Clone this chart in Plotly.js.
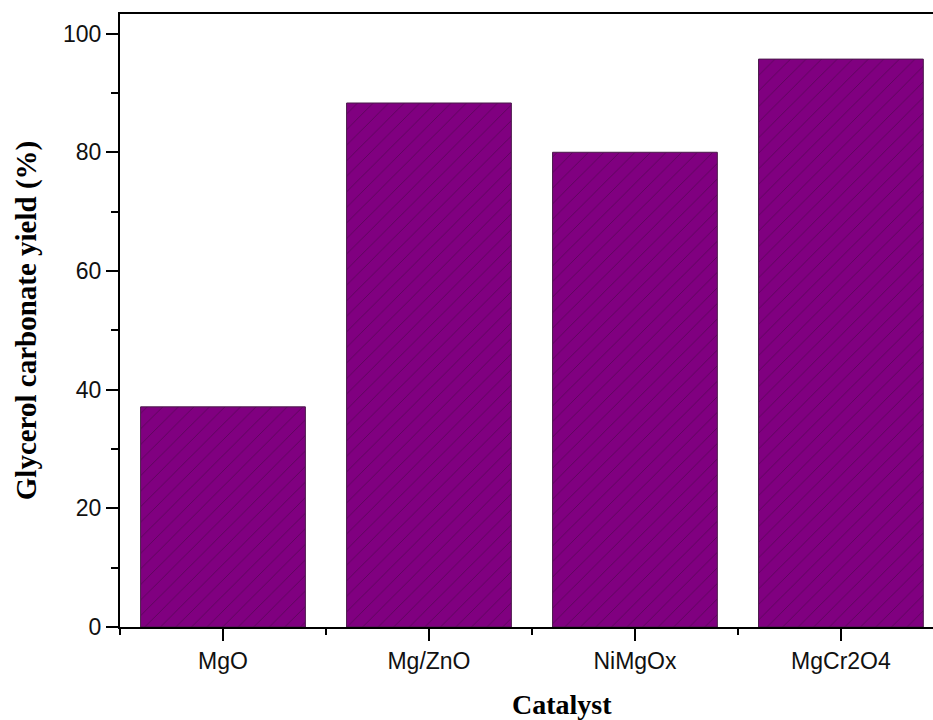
<!DOCTYPE html>
<html>
<head>
<meta charset="utf-8">
<script src="https://cdn.plot.ly/plotly-3.0.1.min.js"></script>
<style>html,body{margin:0;padding:0;background:#fff;}</style>
</head>
<body>
<div id="chart" style="width:933px;height:720px;"></div>
<script>
const categories = ["MgO", "Mg/ZnO", "NiMgOx", "MgCr2O4"];
const yieldValues = [37.1, 88.3, 80.0, 95.7];
const yTickVals = [0, 20, 40, 60, 80, 100];
const yTickText = ["0", "20", "40", "60", "80", "100"];
const xPositions = categories.map((c, i) => i);

const trace = {
  type: "bar",
  x: xPositions,
  y: yieldValues,
  width: 0.8,
  marker: {
    color: "#800080",
    line: {color: "#4a1a4a", width: 1},
    pattern: {shape: "/", fgcolor: "#3a0a3a", fgopacity: 0.55, bgcolor: "#800080", size: 11, solidity: 0.08}
  },
  hoverinfo: "x+y"
};

const layout = {
  width: 933,
  height: 720,
  margin: {l: 120, r: 0, t: 14, b: 93, pad: 0},
  paper_bgcolor: "#ffffff",
  plot_bgcolor: "#ffffff",
  showlegend: false,
  bargap: 0.2,
  xaxis: {
    range: [-0.5, 3.447],
    tickmode: "array",
    tickvals: xPositions,
    ticktext: categories,
    ticks: "outside",
    ticklen: 12,
    tickwidth: 2,
    tickcolor: "#000",
    showline: true,
    linewidth: 2,
    linecolor: "#000",
    mirror: true,
    showgrid: false,
    zeroline: false,
    tickfont: {family: "Liberation Sans, Arial, sans-serif", size: 23, color: "#111"},
    minor: {tick0: -0.5, dtick: 1, ticks: "outside", ticklen: 6, tickwidth: 2, tickcolor: "#000", showgrid: false}
  },
  yaxis: {
    range: [0, 103.3],
    tickmode: "array",
    tickvals: yTickVals,
    ticktext: yTickText,
    ticks: "outside",
    ticklen: 12,
    tickwidth: 2,
    tickcolor: "#000",
    showline: true,
    linewidth: 2,
    linecolor: "#000",
    mirror: false,
    showgrid: false,
    zeroline: false,
    tickfont: {family: "Liberation Sans, Arial, sans-serif", size: 23, color: "#111"},
    minor: {tick0: 0, dtick: 10, ticks: "outside", ticklen: 7, tickwidth: 2, tickcolor: "#000", showgrid: false},
    title: {
      text: "<b>Glycerol carbonate yield (%)</b>",
      font: {family: "Liberation Serif, Times New Roman, serif", size: 29, color: "#000"},
      standoff: 18
    }
  },
  annotations: [{
    text: "<b>Catalyst</b>",
    xref: "paper", yref: "paper",
    x: 0.5437, y: -0.126,
    xanchor: "center", yanchor: "middle",
    showarrow: false,
    font: {family: "Liberation Serif, Times New Roman, serif", size: 28, color: "#000"}
  }]
};

Plotly.newPlot("chart", [trace], layout, {displayModeBar: false, staticPlot: true});
</script>
</body>
</html>
